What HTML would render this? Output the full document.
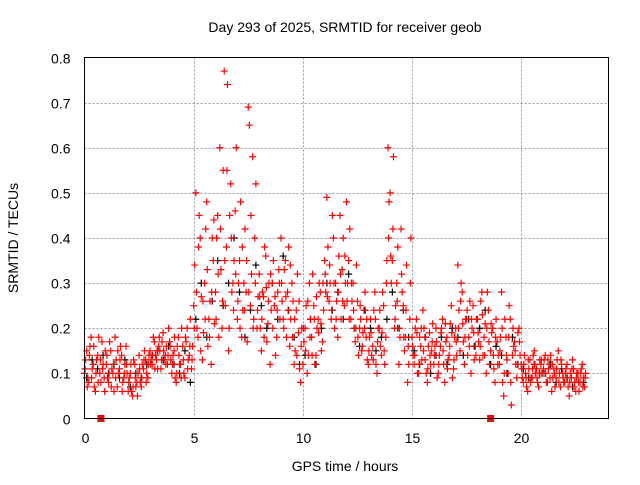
<!DOCTYPE html>
<html><head><meta charset="utf-8"><style>
body{margin:0;background:#fff;}
svg text{font-family:"Liberation Sans",sans-serif;font-size:14px;fill:#000;}
</style></head><body>
<svg id="chart" width="640" height="480" viewBox="0 0 640 480" xmlns="http://www.w3.org/2000/svg">
<rect width="640" height="480" fill="#fff"/>
<text x="345" y="32" text-anchor="middle">Day 293 of 2025, SRMTID for receiver geob</text>
<text x="345" y="471" text-anchor="middle">GPS time / hours</text>
<text x="0" y="0" text-anchor="middle" transform="translate(18,238) rotate(-90)">SRMTID / TECUs</text>
<g id="grid"></g><g id="ticks"></g><g id="marks"></g>
<rect x="84.5" y="57.5" width="524" height="361" fill="none" stroke="#000" stroke-width="1"/>
</svg>
<script>
const xTicks=[0,5,10,15,20];
const yTicks=[0,0.1,0.2,0.3,0.4,0.5,0.6,0.7,0.8];
const yTickLabels=["0","0.1","0.2","0.3","0.4","0.5","0.6","0.7","0.8"];
const redA=[0.10,0.15,0.08,0.18,0.12,0.06,0.14,0.10,0.17,0.09,
0.12,0.08,0.15,0.10,0.18,0.07,0.11,0.14,0.09,0.16,
0.06,0.10,0.05,0.12,0.08,0.14,0.07,0.11,0.13,0.09,
0.15,0.12,0.17,0.13,0.16,0.11,0.19,0.14,0.12,0.17,
0.10,0.15,0.08,0.18,0.12,0.16,0.09,0.20,0.14,0.11,
0.25,0.50,0.18,0.40,0.13,0.30,0.48,0.22,0.12,0.35,
0.28,0.45,0.60,0.20,0.77,0.38,0.15,0.52,0.30,0.46,
0.22,0.35,0.18,0.30,0.28,0.69,0.25,0.58,0.40,0.20,
0.32,0.15,0.27,0.36,0.21,0.12,0.30,0.25,0.18,0.33,
0.40,0.22,0.35,0.28,0.16,0.30,0.12,0.24,0.19,0.08,
0.12,0.20,0.10,0.30,0.18,0.25,0.14,0.22,0.28,0.17,
0.35,0.49,0.26,0.22,0.40,0.30,0.18,0.45,0.33,0.25,
0.48,0.35,0.22,0.30,0.17,0.26,0.20,0.15,0.24,0.18,
0.12,0.22,0.16,0.28,0.10,0.20,0.14,0.25,0.18,0.60,
0.50,0.35,0.20,0.30,0.12,0.42,0.25,0.18,0.08,0.22,
0.18,0.12,0.22,0.10,0.16,0.24,0.13,0.08,0.19,0.15,
0.12,0.20,0.10,0.16,0.22,0.08,0.18,0.14,0.25,0.11,
0.20,0.34,0.15,0.28,0.12,0.22,0.18,0.10,0.25,0.16,
0.22,0.13,0.28,0.18,0.10,0.24,0.15,0.20,0.08,0.17,
0.12,0.28,0.05,0.18,0.10,0.22,0.14,0.17,0.09,0.20,
0.12,0.08,0.10,0.06,0.13,0.09,0.15,0.11,0.07,0.12,
0.10,0.14,0.08,0.12,0.06,0.11,0.09,0.15,0.07,0.10,
0.08,0.12,0.05,0.09,0.11,0.06,0.10,0.08,0.12,0.07];
const redB=[0.13,0.09,0.16,0.11,0.07,0.13,0.18,0.08,0.12,0.15,
0.09,0.17,0.11,0.06,0.13,0.10,0.16,0.08,0.12,0.10,
0.09,0.06,0.13,0.07,0.10,0.08,0.12,0.15,0.10,0.14,
0.13,0.18,0.14,0.11,0.15,0.17,0.13,0.16,0.20,0.13,
0.14,0.09,0.16,0.12,0.20,0.10,0.17,0.13,0.22,0.16,
0.34,0.20,0.45,0.27,0.19,0.42,0.16,0.26,0.40,0.21,
0.40,0.18,0.33,0.55,0.25,0.74,0.45,0.28,0.35,0.60,
0.30,0.48,0.24,0.42,0.17,0.65,0.32,0.22,0.52,0.27,
0.20,0.28,0.38,0.17,0.30,0.24,0.35,0.14,0.28,0.22,
0.26,0.33,0.18,0.38,0.22,0.26,0.15,0.32,0.11,0.20,
0.17,0.25,0.14,0.22,0.32,0.12,0.20,0.30,0.15,0.24,
0.28,0.38,0.30,0.45,0.20,0.26,0.36,0.22,0.40,0.30,
0.30,0.42,0.26,0.20,0.34,0.14,0.22,0.19,0.28,0.13,
0.18,0.14,0.24,0.12,0.20,0.16,0.28,0.12,0.35,0.48,
0.30,0.58,0.25,0.38,0.18,0.28,0.15,0.34,0.12,0.40,
0.14,0.20,0.10,0.18,0.13,0.20,0.10,0.16,0.12,0.21,
0.16,0.09,0.14,0.20,0.12,0.17,0.13,0.21,0.09,0.18,
0.14,0.24,0.30,0.17,0.22,0.14,0.26,0.20,0.13,0.22,
0.17,0.26,0.14,0.21,0.28,0.12,0.19,0.11,0.22,0.14,
0.18,0.08,0.22,0.13,0.25,0.03,0.16,0.12,0.19,0.14,
0.09,0.14,0.07,0.11,0.09,0.14,0.10,0.08,0.13,0.10,
0.13,0.08,0.11,0.14,0.09,0.07,0.13,0.10,0.12,0.08,
0.11,0.07,0.10,0.13,0.08,0.10,0.06,0.11,0.09,0.10];
const redC=[0.11,0.07,0.14,0.09,0.16,0.10,0.08,0.13,0.11,0.06,
0.14,0.10,0.07,0.12,0.09,0.15,0.13,0.06,0.10,0.12,
0.08,0.12,0.07,0.09,0.05,0.11,0.09,0.13,0.08,0.12,
0.12,0.14,0.11,0.15,0.18,0.13,0.15,0.12,0.14,0.16,
0.12,0.18,0.10,0.14,0.09,0.13,0.18,0.11,0.16,0.13,
0.20,0.28,0.38,0.15,0.26,0.22,0.33,0.18,0.28,0.44,
0.22,0.32,0.42,0.26,0.35,0.55,0.20,0.40,0.24,0.32,
0.26,0.20,0.38,0.24,0.35,0.28,0.45,0.20,0.30,0.24,
0.27,0.22,0.18,0.29,0.26,0.32,0.20,0.27,0.24,0.30,
0.30,0.20,0.27,0.24,0.34,0.18,0.22,0.14,0.26,0.16,
0.20,0.15,0.26,0.18,0.14,0.22,0.27,0.19,0.21,0.30,
0.32,0.27,0.34,0.24,0.30,0.22,0.28,0.32,0.26,0.36,
0.26,0.22,0.30,0.24,0.20,0.18,0.25,0.16,0.20,0.22,
0.15,0.19,0.13,0.22,0.17,0.24,0.19,0.15,0.30,0.40,
0.36,0.42,0.22,0.26,0.20,0.32,0.18,0.24,0.16,0.30,
0.16,0.14,0.19,0.12,0.20,0.15,0.18,0.11,0.14,0.17,
0.14,0.17,0.12,0.19,0.15,0.21,0.11,0.16,0.19,0.13,
0.17,0.20,0.26,0.21,0.18,0.24,0.16,0.22,0.19,0.14,
0.19,0.16,0.23,0.14,0.20,0.17,0.21,0.14,0.18,0.12,
0.15,0.20,0.10,0.14,0.18,0.08,0.20,0.15,0.12,0.17,
0.11,0.12,0.09,0.13,0.08,0.11,0.12,0.09,0.10,0.13,
0.11,0.10,0.13,0.09,0.12,0.10,0.11,0.08,0.13,0.09,
0.10,0.09,0.08,0.11,0.07,0.09,0.08,0.10,0.07,0.09];
const blackV=[0.09,0.13,0.11,0.14,0.10,0.12,0.09,0.13,0.07,0.10,0.09,0.12,
0.14,0.15,0.13,0.16,0.12,0.10,0.15,0.08,0.22,0.30,0.18,0.26,
0.35,0.25,0.30,0.40,0.28,0.18,0.24,0.34,0.25,0.20,0.30,0.22,
0.36,0.24,0.18,0.12,0.14,0.22,0.12,0.20,0.30,0.24,0.28,0.22,
0.32,0.20,0.16,0.24,0.20,0.15,0.18,0.22,0.28,0.20,0.24,0.18,
0.15,0.12,0.18,0.10,0.14,0.18,0.12,0.20,0.18,0.14,0.22,0.16,
0.20,0.24,0.12,0.16,0.14,0.10,0.18,0.12,0.11,0.09,0.12,0.10,
0.10,0.12,0.08,0.11,0.09,0.07,0.10,0.08];
const gapHours=[0.75,18.6];

const L=84.5,R=608.5,T=57.5,B=418.5,XMAX=24,YMAX=0.8;
const xs=h=>L+(R-L)*h/XMAX, ys=v=>B-(B-T)*v/YMAX;
const NS="http://www.w3.org/2000/svg";
const grid=document.getElementById('grid'),ticks=document.getElementById('ticks'),marks=document.getElementById('marks');
function mk(tag,attrs,parent){const e=document.createElementNS(NS,tag);for(const k in attrs)e.setAttribute(k,attrs[k]);parent.appendChild(e);return e;}
yTicks.forEach((v,i)=>{
  const y=Math.round(ys(v))+0.5;
  if(i>0&&i<yTicks.length-1){const g=mk('line',{x1:L,x2:R,y1:y,y2:y,stroke:'#999','stroke-dasharray':'2,2'},grid);
  
  }
  const t=mk('text',{x:L-14,y:y+5,'text-anchor':'end'},ticks);t.textContent=yTickLabels[i];
  
  
});
xTicks.forEach(h=>{
  const x=Math.round(xs(h))+0.5;
  if(h>0){const g=mk('line',{x1:x,x2:x,y1:T,y2:B,stroke:'#999','stroke-dasharray':'2,2'},grid);
  
  }
  const t=mk('text',{x:x,y:443,'text-anchor':'middle'},ticks);t.textContent=String(h);
  
  
});
function plus(h,v,color,name){
  const x=xs(h),y=ys(v);
  const p=mk('path',{d:`M${x-3.5} ${y}H${x+3.5}M${x} ${y-3.5}V${y+3.5}`,stroke:color,'stroke-width':1.2,fill:'none'},marks);
  
  
}
blackV.forEach((v,i)=>plus(i*0.25+0.1,v,'#000','black-point'));
redA.forEach((v,i)=>plus(i*0.1,v,'#f00','red-point'));
redB.forEach((v,i)=>plus(i*0.1+0.05,v,'#f00','red-point'));
redC.forEach((v,i)=>plus(i*0.1+0.025,v,'#f00','red-point'));
gapHours.forEach(h=>{
  const r=mk('rect',{x:xs(h)-3.5,y:B-3.5,width:7,height:7,fill:'#f00'},marks);
  
  
});
</script>
</body></html>
